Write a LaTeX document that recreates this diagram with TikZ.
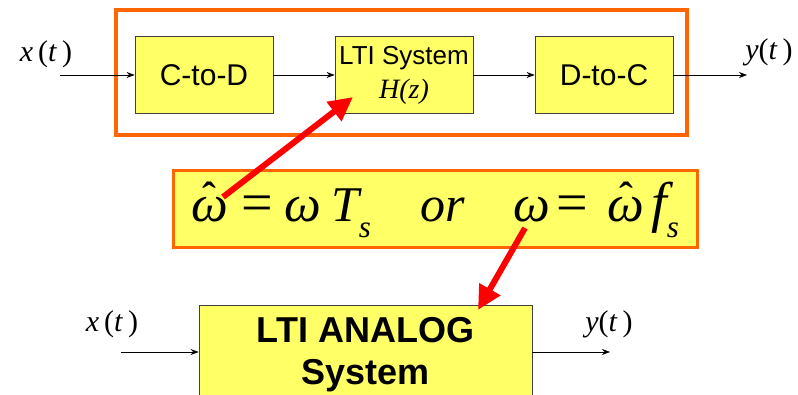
\documentclass[tikz,border=0pt]{standalone}
\usepackage{fontspec}
\setmainfont{Liberation Sans}
\newfontfamily\tms{Liberation Serif}
\usetikzlibrary{arrows.meta}
\definecolor{cyellow}{RGB}{255,255,102}
\definecolor{corange}{RGB}{255,102,0}
\definecolor{cred}{RGB}{255,0,0}
\tikzset{pix/.style={x=1pt,y=-1pt},
  block/.style={draw=black!75,fill=cyellow,line width=0.8pt,inner sep=0pt,align=center},
  sig/.style={-{Stealth[length=8pt,width=6pt]},line width=0.6pt},
  hint/.style={cred,line width=6pt,-{Triangle[length=24pt,width=23pt]}},
  sigtext/.style={font=\tms\fontsize{30}{30}\selectfont,inner sep=0pt}}
\newcommand\om{{\fontsize{52}{52}\selectfont ω}}
\newcommand\omh{{\fontsize{52}{52}\selectfont\leavevmode\rlap{\hbox to \fontcharwd\font`ω{\hss\raisebox{0.22em}{\scalebox{0.8}[0.75]{\upshape\bfseries ˆ}}\hss}}ω}}
\newcommand\eqs{{\upshape\fontsize{56}{56}\selectfont =}}
\newcommand\subs[1]{\raisebox{-0.32em}{\fontsize{31}{31}\selectfont #1}}

\begin{document}
\begin{tikzpicture}[pix]
    \useasboundingbox (0,0) rectangle (798,395);
    \clip (0,0) rectangle (798,395);
    % discrete-time chain
    \node[draw=corange,line width=4pt,minimum width=571pt,minimum height=125pt] (frame) at (401.5,72.5) {};
    \node[block,minimum width=138pt,minimum height=77pt,font=\fontsize{30}{30}\selectfont] (ctod) at (204,75) {C-to-D};
    \node[block,minimum width=138pt,minimum height=77pt,font=\fontsize{26}{28}\selectfont] (lti) at (404,75)
      {LTI System\\[6pt]{\tms\itshape\fontsize{28}{28}\selectfont H(z)}};
    \node[block,minimum width=138pt,minimum height=77pt,font=\fontsize{30}{30}\selectfont] (dtoc) at (604,75) {D-to-C};
    \coordinate (xin) at (60,75);
    \coordinate (yout) at (747,75);
    \node[sigtext] (xlab) at (46,54) {\textit{x}\,(\textit{t}\,)};
    \node[sigtext] (ylab) at (769,52) {\textit{y}(\textit{t}\,)};
    \draw[sig] (xin) -- (ctod.west);
    \draw[sig] (ctod.east) -- (lti.west);
    \draw[sig] (lti.east) -- (dtoc.west);
    \draw[sig] (dtoc.east) -- (yout);
    % frequency relation
    \node[draw=corange,fill=cyellow,line width=3pt,minimum width=524pt,minimum height=77pt,inner sep=0pt,
      font=\tms\itshape\fontsize{50}{54}\selectfont] (eq) at (435,209.5)
      {\omh\hspace{14pt}\eqs\hspace{11pt}\om\hspace{10pt}T\subs{s}\hspace{50pt}or\hspace{48pt}\om\hspace{6pt}\eqs\hspace{20pt}\omh\hspace{7pt}{\fontsize{56}{56}\selectfont f}\subs{s}};
    % analog equivalent
    \node[block,minimum width=333pt,minimum height=100pt,font=\bfseries\fontsize{36}{42}\selectfont] (analog) at (365.5,355)
      {LTI ANALOG\\System};
    \coordinate (ain) at (121,352);
    \coordinate (aout) at (610,352);
    \node[sigtext] (axlab) at (112,324) {\textit{x}\,(\textit{t}\,)};
    \node[sigtext] (aylab) at (609,324) {\textit{y}(\textit{t}\,)};
    \draw[sig] (ain) -- (ain -| analog.west);
    \draw[sig] (aout -| analog.east) -- (aout);
    % pointers
    \coordinate (hatA) at (223,197);
    \coordinate (hatB) at (353,97);
    \coordinate (omA) at (525,228);
    \coordinate (omB) at (478,310);
    \draw[hint] (hatA) -- (hatB);
    \draw[hint] (omA) -- (omB);
\end{tikzpicture}
\end{document}
